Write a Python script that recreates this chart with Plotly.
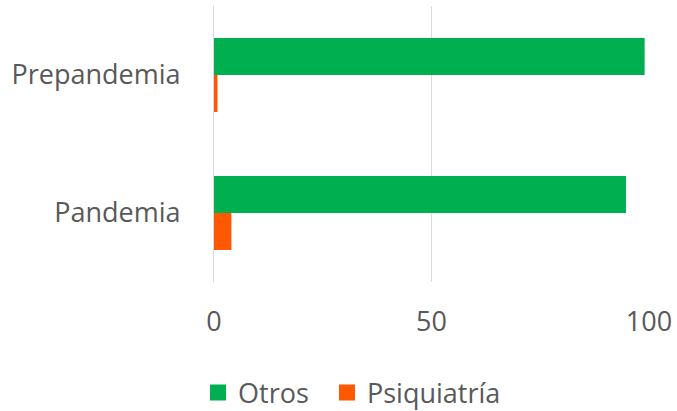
import plotly.graph_objects as go

categories = ["Prepandemia", "Pandemia"]
otros = [99.0, 94.7]
psiquiatria = [0.8, 4.0]
x_ticks = [0, 50, 100]

GREEN = "#00B050"
ORANGE = "#FF5800"
TEXT = "#595959"
FONT = "Open Sans"

fig = go.Figure()
fig.add_trace(go.Bar(y=categories, x=otros, name="Otros", orientation="h",
                     marker=dict(color=GREEN, line=dict(width=0)), showlegend=False))
fig.add_trace(go.Bar(y=categories, x=psiquiatria, name="Psiquiatría", orientation="h",
                     marker=dict(color=ORANGE, line=dict(width=0)), showlegend=False))
# legend entries with larger square swatches
fig.add_trace(go.Scatter(x=[None], y=[None], mode="markers", name="Otros",
                         marker=dict(symbol="square", size=16, color=GREEN), legend="legend"))
fig.add_trace(go.Scatter(x=[None], y=[None], mode="markers", name="Psiquiatría",
                         marker=dict(symbol="square", size=16, color=ORANGE), legend="legend2"))

leg_common = dict(orientation="h", xref="container", xanchor="left",
                  y=(411 - 393) / 411, yref="container", yanchor="middle",
                  font=dict(size=27, color=TEXT), bgcolor="rgba(0,0,0,0)")

fig.update_layout(
    width=677, height=411,
    margin=dict(l=214, r=28, t=6, b=129, autoexpand=False),
    paper_bgcolor="white", plot_bgcolor="white",
    barmode="group", bargap=0.464, bargroupgap=0,
    font=dict(family=FONT, color=TEXT, size=27),
    showlegend=True,
    legend=dict(x=198 / 677, **leg_common),
    legend2=dict(x=327 / 677, **leg_common),
    xaxis=dict(range=[0, 100], tickvals=x_ticks, showgrid=True, gridcolor="#D9D9D9",
               gridwidth=1, zeroline=False, showline=False, ticks="",
               ticklabelstandoff=21, tickfont=dict(size=27, color=TEXT)),
    yaxis=dict(categoryorder="array", categoryarray=categories, autorange="reversed",
               showline=True, linecolor="#D9D9D9", linewidth=1, ticks="",
               ticklabelstandoff=27, tickfont=dict(size=27, color=TEXT)),
)
fig.write_html("out.html", config={"displayModeBar": False},
               post_script="document.body.style.margin='0';")
